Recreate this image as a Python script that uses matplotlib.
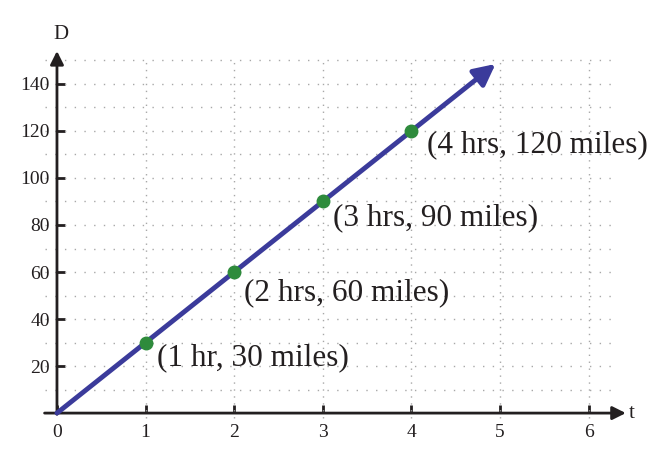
import matplotlib.pyplot as plt

# data
hours = [1, 2, 3, 4]
miles = [30, 60, 90, 120]
labels = ["(1 hr, 30 miles)", "(2 hrs, 60 miles)",
          "(3 hrs, 90 miles)", "(4 hrs, 120 miles)"]
x_ticks = [0, 1, 2, 3, 4, 5, 6]
y_ticks = [20, 40, 60, 80, 100, 120, 140]
line_end = 4.95   # where the arrow on the line stops
speed = 30

# label offsets in pixels from each point
label_dx = [11, 10, 10, 16]
label_dy = [-15, -21, -16, -14]

plt.rcParams["font.family"] = ["Liberation Serif", "DejaVu Serif"]

fig = plt.figure(figsize=(6.71, 4.5), dpi=100)
ax = fig.add_axes([0, 0, 1, 1])
ax.set_xlim(-0.643, 6.93)
ax.set_ylim(-15.7, 175.7)

axis_col = "#231f20"
grid_col = "#a8a8a8"

# dotted grid
for gx in range(1, 7):
    ax.plot([gx, gx], [-2, 150], ls=(0, (1, 4)), color=grid_col, lw=1)
for gy in range(10, 151, 10):
    ax.plot([-0.13, 6.33], [gy, gy], ls=(0, (1, 6)), color=grid_col, lw=1)

# axes with arrow heads
ax.annotate("", xy=(6.42, 0), xytext=(-0.14, 0),
            arrowprops=dict(arrowstyle="-|>", lw=2, color=axis_col,
                            mutation_scale=20, shrinkA=0, shrinkB=0))
ax.annotate("", xy=(0, 154), xytext=(0, -0.5),
            arrowprops=dict(arrowstyle="-|>", lw=2, color=axis_col,
                            mutation_scale=20, shrinkA=0, shrinkB=0))
ax.text(6.45, 0, "t", fontsize=15, va="center", ha="left", color=axis_col)
ax.text(0.05, 157, "D", fontsize=15, va="bottom", ha="center", color=axis_col)

for s in ax.spines.values():
    s.set_visible(False)
ax.spines["left"].set_position(("data", 0))
ax.spines["bottom"].set_position(("data", 0))
ax.set_xticks(x_ticks)
ax.set_yticks(y_ticks)
ax.tick_params(direction="in", length=6, width=2, color=axis_col,
               labelsize=14, labelcolor=axis_col)
ax.tick_params(axis="x", pad=8)
ax.tick_params(axis="y", pad=5)

# the D = 30t line
ax.annotate("", xy=(line_end, speed * line_end), xytext=(0, 0),
            arrowprops=dict(arrowstyle="-|>", lw=3.5, color="#3b3b9b",
                            mutation_scale=32, shrinkA=0, shrinkB=0))
ax.plot(hours, miles, "o", color="#2e8b3c", ms=9, zorder=5)

for h, m, lab, dx, dy in zip(hours, miles, labels, label_dx, label_dy):
    ax.annotate(lab, (h, m), xytext=(dx, dy), textcoords="offset pixels",
                fontsize=22.5, ha="left", va="center", color=axis_col)

fig.savefig("out.png", dpi=100)
